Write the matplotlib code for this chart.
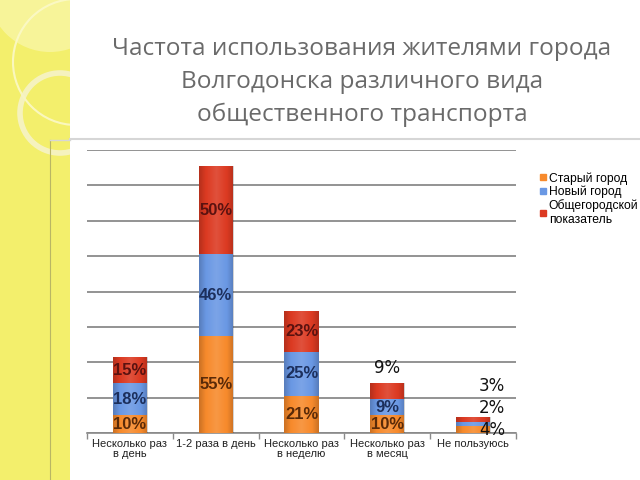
import matplotlib
matplotlib.use("Agg")
import matplotlib.pyplot as plt
from matplotlib.patches import Rectangle, Circle
from matplotlib.lines import Line2D
import numpy as np

categories = ["Несколько раз\nв день", "1-2 раза в день", "Несколько раз\nв неделю",
              "Несколько раз\nв месяц", "Не пользуюсь"]
series_names = ["Старый город", "Новый город", "Общегородской\nпоказатель"]
old_town = [10, 55, 21, 10, 4]
new_town = [18, 46, 25, 9, 2]
city_total = [15, 50, 23, 9, 3]

colors = ["#f78a2c", "#6a98e4", "#dc3a22"]
text_colors = ["#5a2a08", "#1c2f5c", "#5a1210"]

title = "Частота использования жителями города\nВолгодонска различного вида\nобщественного транспорта"

W, H = 640, 480
fig = plt.figure(figsize=(6.4, 4.8), dpi=100)


def px(x, y):
    # pixel coords (top-left origin) -> figure fraction
    return x / W, 1 - y / H


# left yellow panel with circles, drawn in pixel space
bg = fig.add_axes([0, 0, 1, 1], zorder=-1)
bg.set_xlim(0, W)
bg.set_ylim(H, 0)
bg.axis("off")
bg.add_patch(Rectangle((0, 0), 70, H, facecolor="#f3ef6c", edgecolor="none", zorder=1))
bg.add_patch(Circle((50, -10), 62, color="#fbf8b8", alpha=0.6, lw=0, zorder=2))
bg.add_patch(Circle((76, 62), 63, fill=False, ec="#fbf9c8", lw=1.5, alpha=0.9, zorder=2))
bg.add_patch(Circle((60, 113), 40, fill=False, ec="#f6f3c8", lw=4, alpha=0.9, zorder=2))
# white slide area hides the parts of the circles right of the panel
bg.add_patch(Rectangle((70, 0), W - 70, H, facecolor="white", edgecolor="none", zorder=3))
bg.plot([50, 50], [140, 480], color="#b9b664", lw=0.8, zorder=4)
bg.plot([70, 640], [139, 139], color="#d6d6d6", lw=1.5, zorder=4)
bg.plot([50, 70], [140, 140], color="#d6d6d6", lw=1.0, zorder=4)

fig.text(*px(362, 82), title, ha="center", va="center", fontsize=17.6,
         family="Open Sans", color="#6a6a6a", linespacing=1.47)

ax = fig.add_axes([87 / W, 47 / H, 429 / W, 283 / H])
x = np.arange(len(categories))
width = 0.4
bottom = np.zeros(len(categories))
series = [old_town, new_town, city_total]
bars = []
for vals, c in zip(series, colors):
    b = ax.bar(x, vals, width, bottom=bottom, color=c, edgecolor="none", zorder=3)
    bars.append((b, vals, bottom.copy()))
    bottom = bottom + np.array(vals)

# soft shading: lighter in the middle, darker at the sides
t = np.abs(np.linspace(-1, 1, 64))
shade = np.zeros((1, 64, 4))
shade[0, :, :3] = np.where(t[:, None] < 0.6, 1.0, 0.0)
shade[0, :, 3] = np.where(t < 0.6, 0.12 * (1 - t / 0.6), 0.18 * (t - 0.6) / 0.4)
for b, vals, bot in bars:
    for patch in b:
        x0, y0 = patch.get_x(), patch.get_y()
        w, h = patch.get_width(), patch.get_height()
        im = ax.imshow(shade, extent=[x0, x0 + w, y0, y0 + h], aspect="auto",
                       interpolation="bilinear", zorder=4)
        im.set_clip_path(patch)

# labels; a few small segments carry their label beside or above the bar
outside = {(2, 3): (3.0, 37), (0, 4): (4.22, 1.5), (1, 4): (4.22, 14), (2, 4): (4.22, 26.5)}
for si, (b, vals, bot) in enumerate(bars):
    for ci, v in enumerate(vals):
        if (si, ci) in outside:
            lx, ly = outside[(si, ci)]
            ax.text(lx, ly, f"{v}%", ha="center", va="center", fontsize=12,
                    color="#111111", zorder=6)
        else:
            ax.text(ci, bot[ci] + v / 2, f"{v}%", ha="center", va="center",
                    fontsize=12, fontweight="bold", family="Liberation Sans",
                    color=text_colors[si], zorder=6)

ax.set_xlim(-0.5, len(categories) - 0.5)
ax.set_ylim(0, 160)
ax.set_yticks(np.arange(0, 161, 20))
ax.yaxis.grid(True, color="#8a8a8a", lw=1.3, zorder=0)
ax.tick_params(axis="y", length=0, labelleft=False)
for s in ["top", "right", "left"]:
    ax.spines[s].set_visible(False)
ax.spines["bottom"].set_color("#8a8a8a")
ax.spines["bottom"].set_linewidth(1.2)
ax.set_xticks(x)
ax.set_xticklabels(categories, fontsize=8, family="Liberation Sans", color="#222222",
                   linespacing=1.1)
ax.tick_params(axis="x", which="major", length=0, pad=4)
ax.set_xticks(np.arange(-0.5, len(categories)), minor=True)
ax.tick_params(axis="x", which="minor", length=4, color="#8a8a8a", width=1)
ax.set_facecolor("none")

handles = [Line2D([], [], marker="s", ls="none", markersize=5, color=c) for c in colors]
fig.legend(handles, series_names, loc="upper left", bbox_to_anchor=px(533, 166),
           frameon=False, prop={"family": "Liberation Sans", "size": 8.7},
           handlelength=0.6, handletextpad=0.2, labelspacing=0.1, borderpad=0)

fig.savefig("out.png", dpi=100)
